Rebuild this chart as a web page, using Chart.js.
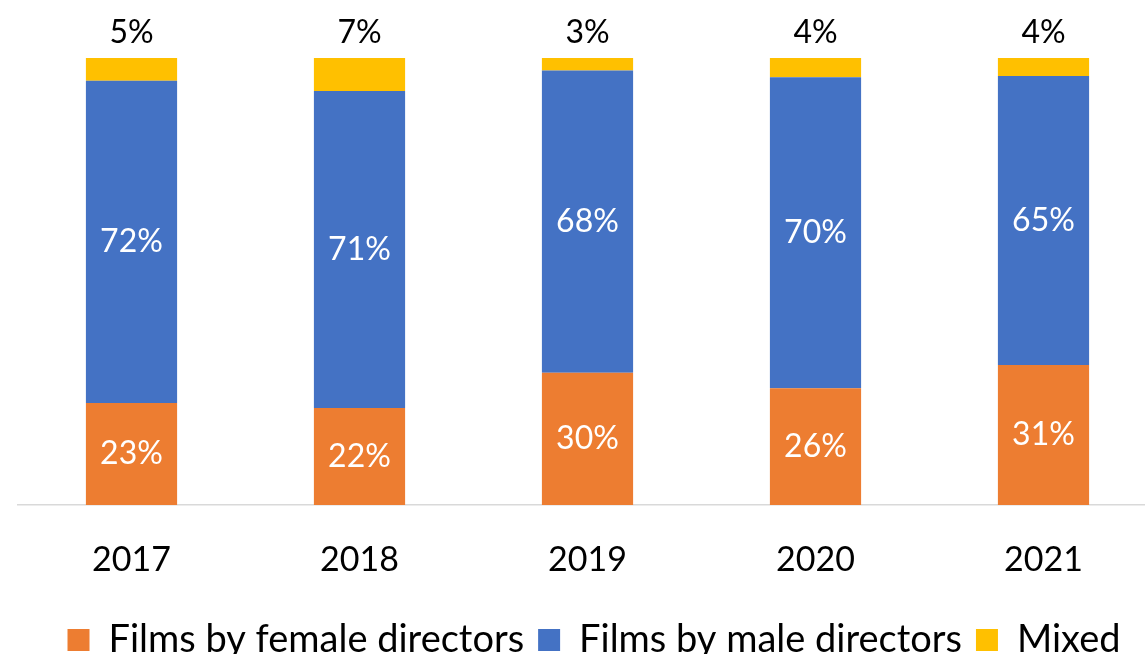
<!DOCTYPE html>
<html>
<head>
<meta charset="utf-8">
<script src="https://cdn.jsdelivr.net/npm/chart.js@4"></script>
<style>
  html, body { margin: 0; padding: 0; overflow: hidden; background: #fff; }
  #wrap { position: absolute; left: 0; top: 0; width: 1185px; height: 669px; }
</style>
</head>
<body>
<div id="wrap"><canvas id="myChart"></canvas></div>
<script>
const years = ["2017", "2018", "2019", "2020", "2021"];
const femaleShare = [22.8, 21.7, 29.6, 26.1, 31.3];
const maleShare = [72.1, 70.9, 67.6, 69.6, 64.7];
const mixedShare = [5.1, 7.4, 2.8, 4.3, 4.0];

const FONT = "Lato";

// percent labels: inside the two lower segments, above the top one
const segmentLabels = {
  id: "segmentLabels",
  afterDatasetsDraw(chart) {
    const ctx = chart.ctx;
    ctx.save();
    ctx.font = "32px " + FONT;
    ctx.textAlign = "center";
    ctx.textBaseline = "middle";
    chart.data.datasets.forEach((ds, i) => {
      chart.getDatasetMeta(i).data.forEach((bar, j) => {
        const text = Math.round(ds.data[j]) + "%";
        if (i === 2) {
          ctx.fillStyle = "#000";
          ctx.fillText(text, bar.x, bar.y - 25);
        } else {
          ctx.fillStyle = "#fff";
          ctx.fillText(text, bar.x, (bar.y + bar.base) / 2);
        }
      });
    });
    ctx.restore();
  },
};

const ctx = document.getElementById("myChart").getContext("2d");

const myChart = new Chart(ctx, {
  type: "bar",
  data: {
    labels: years,
    datasets: [
      {
        label: "Films by female directors",
        data: femaleShare,
        backgroundColor: "#ED7D31",
      },
      {
        label: "Films by male directors",
        data: maleShare,
        backgroundColor: "#4472C4",
      },
      {
        label: "Mixed",
        data: mixedShare,
        backgroundColor: "#FFC000",
      },
    ],
  },
  options: {
    responsive: true,
    maintainAspectRatio: false,
    animation: false,
    barPercentage: 0.4,
    categoryPercentage: 1.0,
    layout: {
      padding: { left: 17.5, right: 14.5, top: 58, bottom: 0 },
    },
    scales: {
      x: {
        stacked: true,
        grid: { display: false, drawTicks: false },
        border: { display: true, color: "#d9d9d9", width: 1.5 },
        ticks: {
          color: "#000",
          padding: 35,
          font: { size: 34, family: FONT },
        },
        afterFit: function (scale) {
          scale.height = 102;
        },
      },
      y: {
        stacked: true,
        position: "right",
        min: 0,
        max: 100,
        grid: { display: false, drawTicks: false },
        border: { display: false },
        ticks: { display: false },
        afterFit: function (scale) {
          scale.width = 13;
        },
      },
    },
    plugins: {
      legend: {
        position: "bottom",
        labels: {
          color: "#000",
          boxWidth: 22,
          boxHeight: 22,
          padding: 14,
          font: { size: 38, family: FONT },
        },
      },
      tooltip: { enabled: true },
    },
  },
  plugins: [segmentLabels],
});
</script>
</body>
</html>
